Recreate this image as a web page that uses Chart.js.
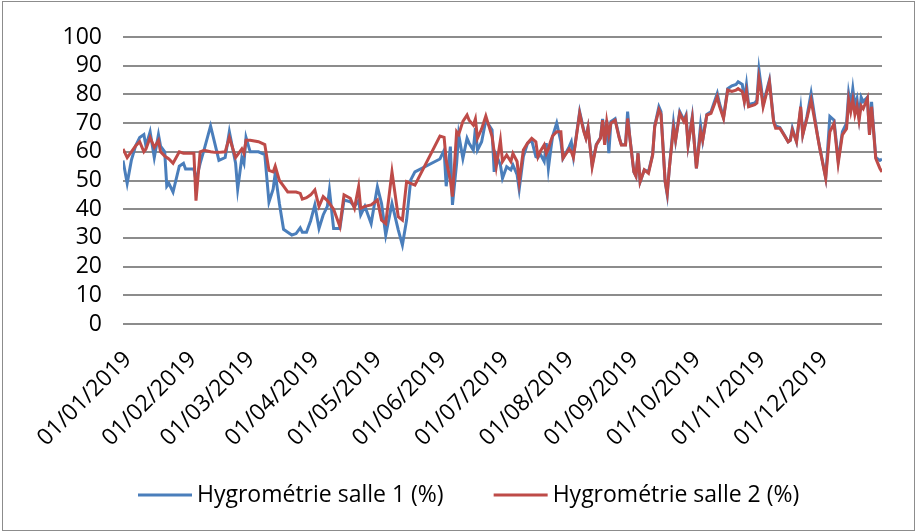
<!DOCTYPE html>
<html>
<head>
<meta charset="utf-8">
<script src="https://cdn.jsdelivr.net/npm/chart.js@4.4.1/dist/chart.umd.min.js"></script>
<style>
  html, body { margin: 0; padding: 0; background: #fff; }
  #wrap { position: relative; width: 917px; height: 532px; }
  #frame { position: absolute; left: 2px; top: 1px; width: 911px; height: 528px; border: 1px solid #8c8c8c; }
  canvas { position: absolute; left: 0; top: 0; }
</style>
</head>
<body>
<div id="wrap">
  <div id="frame"></div>
  <canvas id="hygroChart" width="917" height="532"></canvas>
</div>
<script>
// day of year 2019 (0 = 01/01/2019)
var days = [0,2,4,6,8,10,11,13,15,17,18,20,21,22,24,27,29,30,34,35,37,39,42,44,46,49,51,54,55,57,58,59,61,65,68,
  70,72,73,75,77,79,81,83,85,86,88,90,92,94,96,98,99,101,104,106,109,111,113,114,116,119,122,124,126,129,132,134,136,138,140,
  152,154,155,157,158,160,161,163,165,166,168,169,170,172,174,177,178,179,181,182,184,186,187,189,190,192,194,196,198,199,
  200,202,203,204,205,206,208,210,211,214,215,216,219,221,222,223,225,227,229,230,231,232,233,234,236,238,239,241,242,243,
  245,246,247,248,250,252,254,255,257,258,260,261,262,264,265,267,269,270,271,273,275,277,278,280,282,285,286,288,290,292,
  294,295,297,298,299,300,303,304,305,306,307,310,312,313,315,317,319,320,321,323,325,326,328,330,333,334,337,339,341,343,
  345,347,348,349,350,351,352,353,354,355,357,358,359,361,363,364];

var salle1 = [57,49,57,62,65,66,62,67,58,66,62,60,48,49,46,55,56,54,54,50,56,61,69,63,57,58,67,56,47,58,56,65,60,60,59,
  42.5,47,52.5,42,33,32,31,31.5,33.5,32,32,36,41.5,33.3,38,41,46.7,33.3,33.3,43.2,42.6,41,43,38,41,35,47.8,42,31,42,32.8,27.5,36.2,50.2,53,
  57.5,60.5,48,61.8,41.5,56,66,57.7,64.7,63,60.6,68.2,60.6,63.5,71,67.6,53,58.9,55.4,50.8,54.8,53.7,55.4,52,46.9,58.3,63,64,58.3,58,
  59.4,56.6,63,54.2,60,65.3,70,63.5,57.7,61.8,63.5,58.3,74,67.5,65,68.5,55.5,62.5,65,71.5,63,71,59.5,70.5,71.5,65,62.5,62.5,74,65.5,
  53,51.5,59.5,49.6,53.7,53,59,69,75.7,74,49.6,45,54.2,70,64,74,71,72.8,62.4,72.2,54.2,69.3,64,73,74,80.4,77,72,82,83,
  83.5,84.4,83.5,78,83.4,76.5,77,78,88.5,83,76.5,85,71,69,68.5,66,63.5,64,68.2,63.5,75,66,72.3,80.4,66,62,51,72.3,71,57,
  67,70,80.4,76,82,76,78.5,72,79,77.5,79,66,77.4,58,57,57.5];

var salle2 = [61,58,60,62,63.5,60,61,65,61.5,64,60,58.5,58,57.5,56,60,59.5,59.5,59.5,43,60,60.5,60,59.8,59.8,60,65,58,59,61,59.5,64,64,63.5,62.5,
  53.5,53,55,50,48,46,46,46,45.5,43.5,44,45,46.7,41,44.4,43,42,40,34,45,43.8,40.3,47.8,40.3,41,41.5,43.2,36.2,35,53,37.4,36.2,49.6,49,48.4,
  65.5,65,57,50,44.4,67,66,70.6,72.8,71,69.3,71.5,64.7,68,72.5,65.3,60,54.8,64,56.6,58.9,56.6,59.4,56.6,49.6,60.6,63,64.7,63.5,58.3,
  60,62.4,59.4,61,63.5,65.5,67,67,57.7,61,60,58,73.4,67,64.7,68.4,54.8,62.4,64.7,71,62.4,70.5,65.9,70,71,64.7,62.4,62.4,71.6,65.3,
  53,51.5,59.5,49.6,53.7,52.5,58.9,68.8,74.6,73,49.6,45.5,54.2,68.2,64,73.4,70.5,72.2,62.4,71.6,54.2,67,64,72.8,73.4,79.2,76,71.6,81.5,81,
  81.5,82,81,77.4,81,75.7,76.4,77,85.6,81.3,75.7,84.4,70.5,68.2,68.2,65.9,63.5,64,67.6,63.5,75.7,65.9,71.6,78,65.9,61.8,50.8,67,69.8,56,
  65.9,68,78,74,78,73,76,71,76,75,78.6,65.9,75.7,57.7,54.2,53];

var monthStarts = [0,31,59,90,120,151,181,212,243,273,304,334];
var tickLabels = ['01/01/2019','01/02/2019','01/03/2019','01/04/2019','01/05/2019','01/06/2019',
  '01/07/2019','01/08/2019','01/09/2019','01/10/2019','01/11/2019','01/12/2019'];
var seriesNames = ['Hygrométrie salle 1 (%)', 'Hygrométrie salle 2 (%)'];
var seriesColors = ['#4a7ebb', '#be4b48'];

var fontFamily = "'Open Sans', sans-serif";
var fontSize = 23;

// legend drawn under the chart, like the Excel one
var bottomLegend = {
  id: 'bottomLegend',
  afterDraw: function(chart) {
    var ctx = chart.ctx;
    var y = 495;
    var x = 138;
    ctx.save();
    ctx.font = fontSize + 'px ' + fontFamily;
    ctx.textBaseline = 'middle';
    ctx.textAlign = 'left';
    chart.data.datasets.forEach(function(ds) {
      ctx.strokeStyle = ds.borderColor;
      ctx.lineWidth = 3;
      ctx.beginPath();
      ctx.moveTo(x, y);
      ctx.lineTo(x + 54, y);
      ctx.stroke();
      ctx.fillStyle = '#000';
      ctx.fillText(ds.label, x + 59, y);
      x += 59 + ctx.measureText(ds.label).width + 50;
    });
    ctx.restore();
  }
};

function toPoints(vals) {
  return days.map(function(d, i) { return { x: d, y: vals[i] }; });
}

new Chart(document.getElementById('hygroChart'), {
  type: 'line',
  data: {
    datasets: [{
      label: seriesNames[0],
      data: toPoints(salle1),
      borderColor: seriesColors[0],
      backgroundColor: seriesColors[0],
      borderWidth: 3,
      pointRadius: 0,
      tension: 0,
      order: 1
    }, {
      label: seriesNames[1],
      data: toPoints(salle2),
      borderColor: seriesColors[1],
      backgroundColor: seriesColors[1],
      borderWidth: 3,
      pointRadius: 0,
      tension: 0,
      order: 0
    }]
  },
  options: {
    responsive: false,
    animation: false,
    layout: { padding: { top: 37, right: 35, left: 0, bottom: 0 } },
    plugins: {
      legend: { display: false },
      tooltip: { enabled: false }
    },
    scales: {
      x: {
        type: 'linear',
        min: 0,
        max: 364,
        grid: { display: false },
        border: { display: false },
        afterBuildTicks: function(scale) {
          scale.ticks = monthStarts.map(function(v) { return { value: v }; });
        },
        afterFit: function(scale) { scale.height = 532 - 324; },
        ticks: {
          autoSkip: false,
          minRotation: 45,
          maxRotation: 45,
          padding: 14,
          labelOffset: 5,
          color: '#000',
          font: { family: fontFamily, size: fontSize },
          callback: function(value) {
            var i = monthStarts.indexOf(value);
            return i >= 0 ? tickLabels[i] : '';
          }
        }
      },
      y: {
        min: 0,
        max: 100,
        grid: { color: '#8c8c8c', lineWidth: 2, drawTicks: false },
        border: { display: false },
        afterFit: function(scale) { scale.width = 123; },
        ticks: {
          stepSize: 10,
          autoSkip: false,
          padding: 21,
          color: '#000',
          font: { family: fontFamily, size: fontSize }
        }
      }
    }
  },
  plugins: [bottomLegend]
});
</script>
</body>
</html>
